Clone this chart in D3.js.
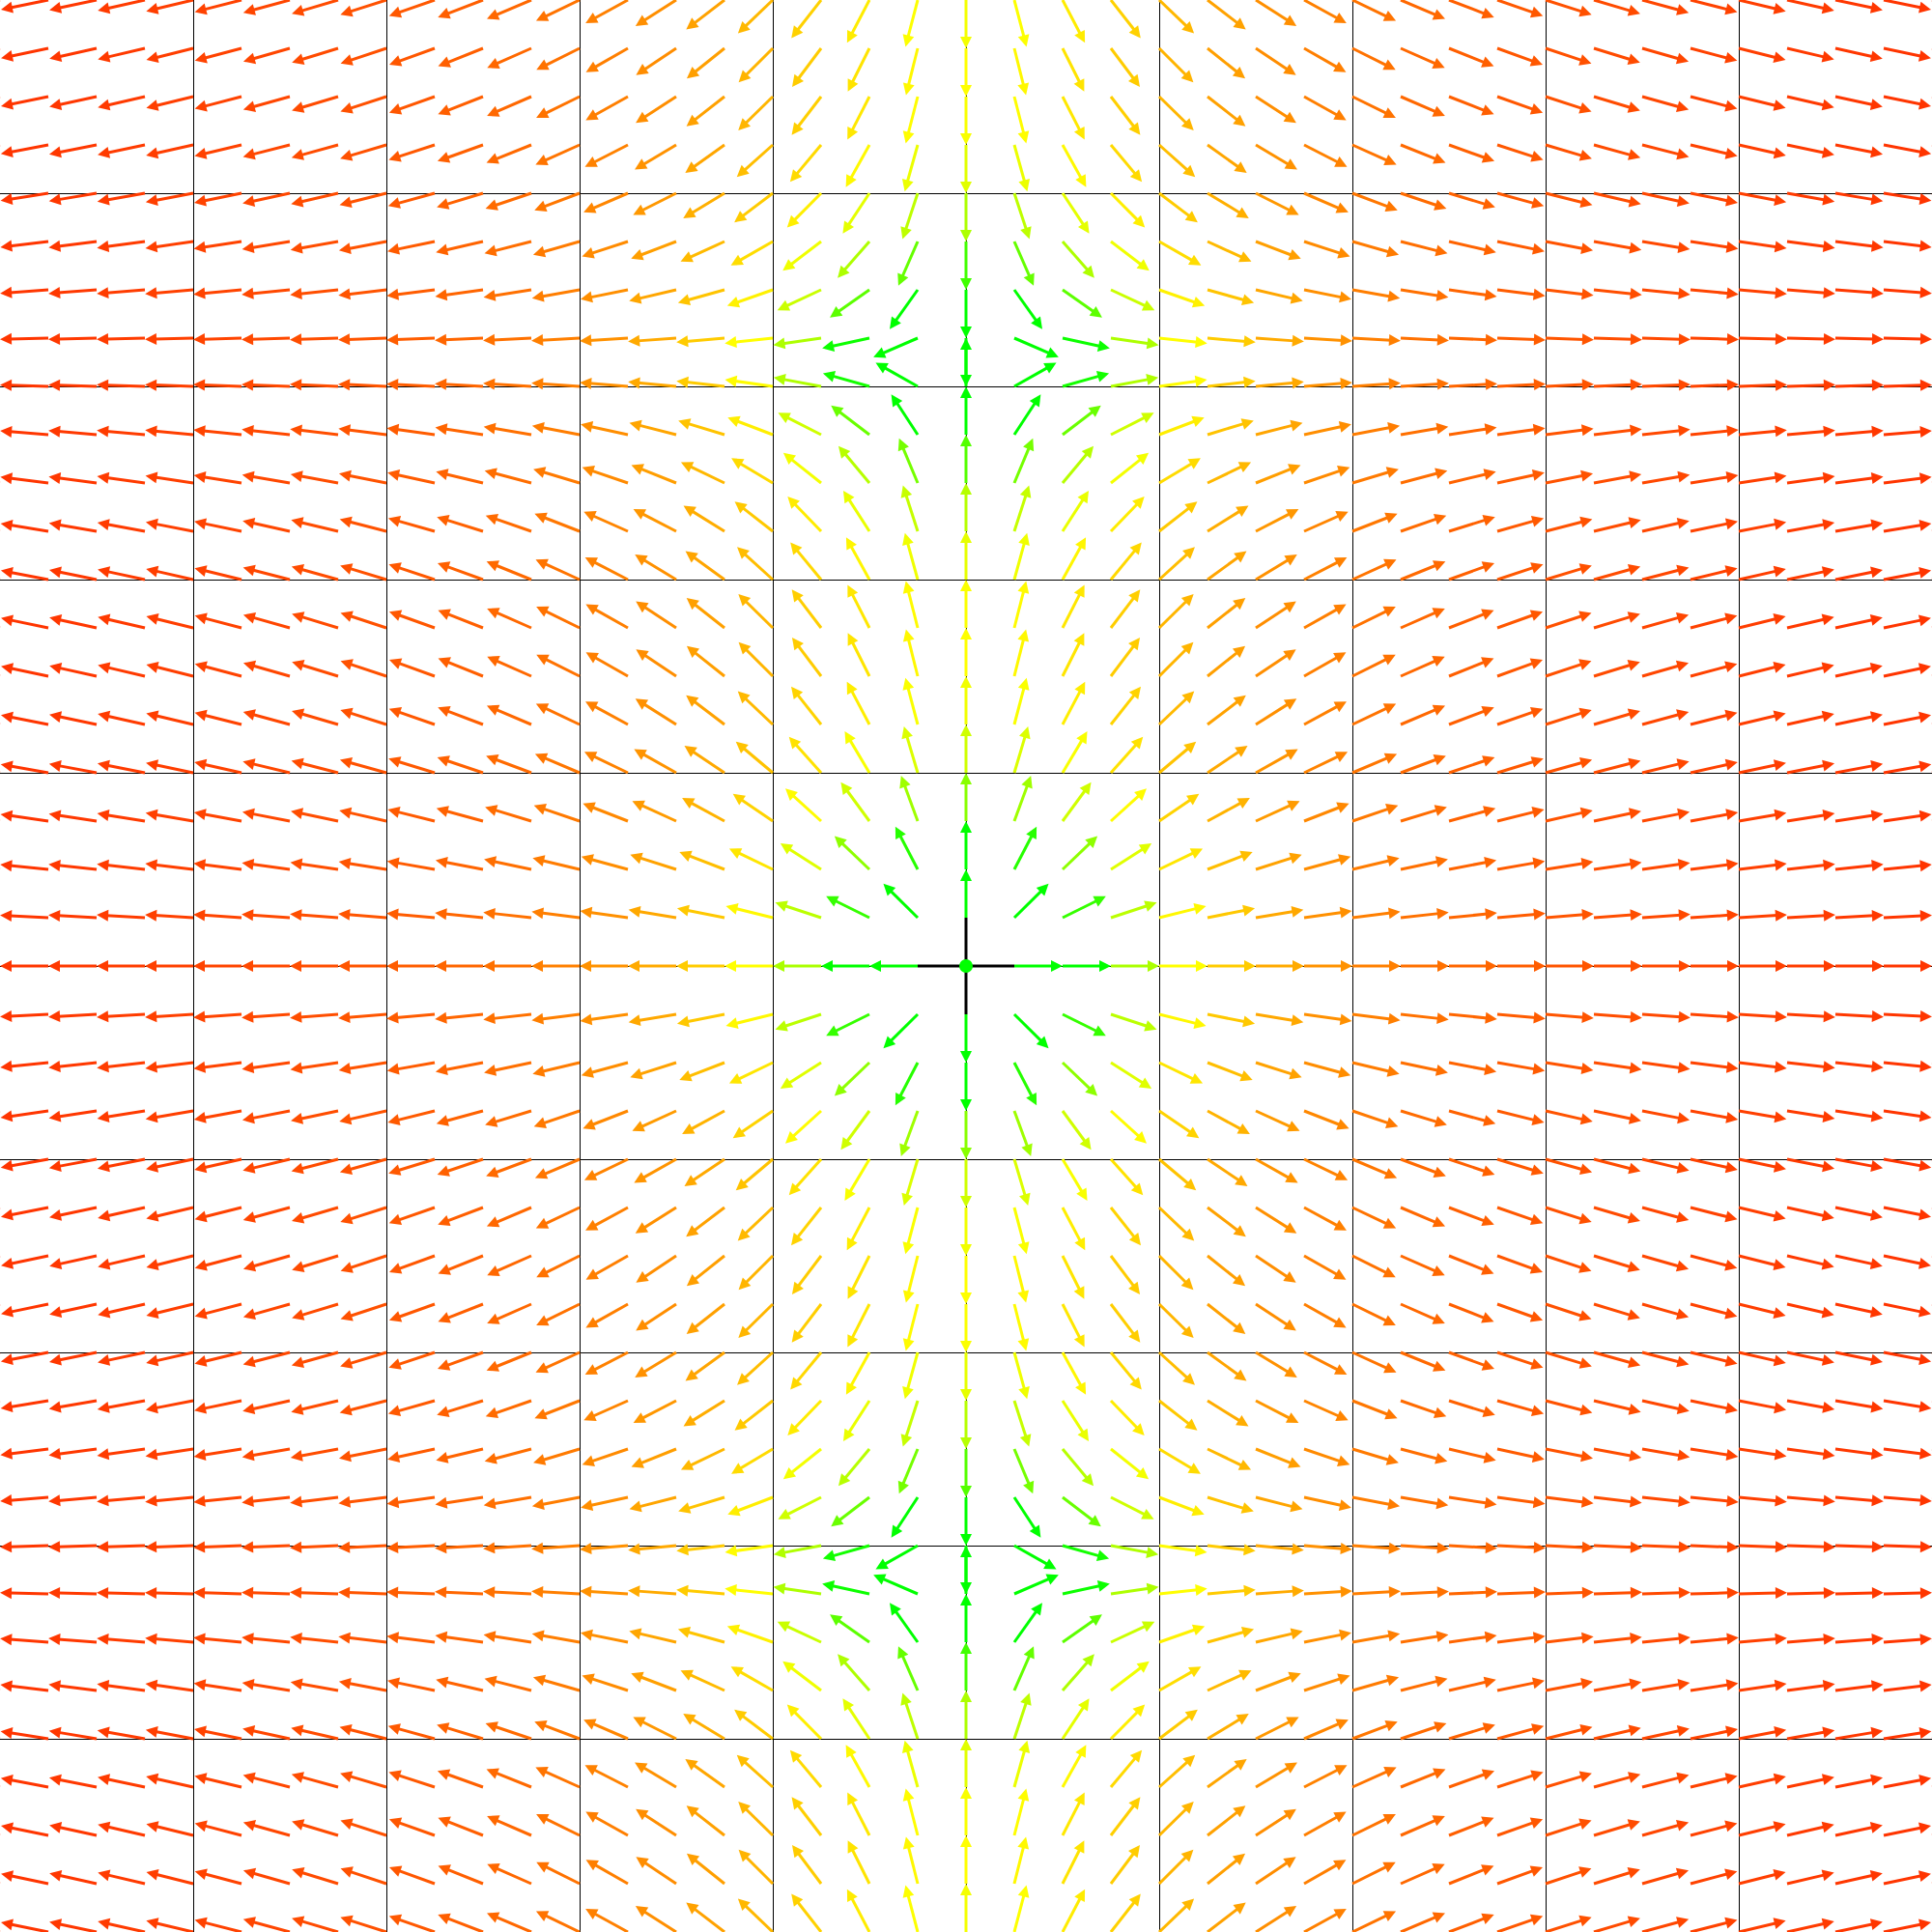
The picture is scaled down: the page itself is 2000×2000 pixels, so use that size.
<!DOCTYPE html>
<html>
<head>
<meta charset="utf-8">
<script src="https://cdn.jsdelivr.net/npm/d3@7"></script>
<style>
  html, body { margin: 0; padding: 0; background: #fff; }
  svg { display: block; }
</style>
</head>
<body>
<svg id="chart" width="2000" height="2000"></svg>
<script>
// ---- data ----
const xDomain = [-5, 5];
const yDomain = [-5, 5];
const sampleStep = 0.25;                       // spacing of arrow tails (units)
const gridLineValues = [-4, -3, -2, -1, 0, 1, 2, 3, 4];
// vector field: F(x, y) = (x, sin y)
const fieldX = (x, y) => x;
const fieldY = (x, y) => Math.sin(y);

// ---- drawing ----
const W = 2000, H = 2000;
const svg = d3.select("#chart");
const xs = d3.scaleLinear().domain(xDomain).range([0, W]);
const ys = d3.scaleLinear().domain(yDomain).range([H, 0]);

const hueOf = m => Math.min(120, 60 / m);
const colorOf = m => d3.hsl(hueOf(m), 1, 0.5).toString();

// grid lines (under the arrows)
const grid = svg.append("g");
grid.selectAll("line.v").data(gridLineValues).join("line")
  .attr("x1", d => xs(d) + 0.5).attr("x2", d => xs(d) + 0.5)
  .attr("y1", 0).attr("y2", H)
  .attr("stroke", "#000").attr("stroke-width", 1);
grid.selectAll("line.h").data(gridLineValues).join("line")
  .attr("y1", d => ys(d) + 0.5).attr("y2", d => ys(d) + 0.5)
  .attr("x1", 0).attr("x2", W)
  .attr("stroke", "#000").attr("stroke-width", 1);

// black cross at the origin
const cross = svg.append("g").attr("stroke", "#000").attr("stroke-width", 3);
cross.append("line")
  .attr("x1", xs(-sampleStep)).attr("x2", xs(sampleStep))
  .attr("y1", ys(0)).attr("y2", ys(0));
cross.append("line")
  .attr("x1", xs(0)).attr("x2", xs(0))
  .attr("y1", ys(-sampleStep)).attr("y2", ys(sampleStep));

// sample points
const nx = Math.round((xDomain[1] - xDomain[0]) / sampleStep);
const ny = Math.round((yDomain[1] - yDomain[0]) / sampleStep);
const pts = [];
for (let i = 0; i <= nx; i++) {
  for (let j = 0; j <= ny; j++) {
    const x = xDomain[0] + i * sampleStep;
    const y = yDomain[0] + j * sampleStep;
    const vx = fieldX(x, y), vy = fieldY(x, y);
    const m = Math.hypot(vx, vy);
    pts.push({x, y, vx, vy, m});
  }
}

const headLen = 12, headHalf = 6;
const arrows = svg.append("g");
pts.filter(p => p.m > 1e-9).forEach(p => {
  const x0 = xs(p.x), y0 = ys(p.y);
  const x1 = xs(p.x + sampleStep * p.vx / p.m);
  const y1 = ys(p.y + sampleStep * p.vy / p.m);
  const dx = x1 - x0, dy = y1 - y0;
  const L = Math.hypot(dx, dy);
  const ux = dx / L, uy = dy / L;
  const bx = x1 - ux * headLen, by = y1 - uy * headLen;
  const c = colorOf(p.m);
  arrows.append("line")
    .attr("x1", x0).attr("y1", y0)
    .attr("x2", bx + ux * 2).attr("y2", by + uy * 2)
    .attr("stroke", c).attr("stroke-width", 3);
  arrows.append("polygon")
    .attr("points", [
      [x1, y1],
      [bx - uy * headHalf, by + ux * headHalf],
      [bx + uy * headHalf, by - ux * headHalf]
    ].map(q => q.join(",")).join(" "))
    .attr("fill", c);
});

// zero of the field at the origin
pts.filter(p => p.m <= 1e-9).forEach(p => {
  svg.append("circle")
    .attr("cx", xs(p.x)).attr("cy", ys(p.y)).attr("r", 7)
    .attr("fill", colorOf(0));
});
</script>
</body>
</html>
